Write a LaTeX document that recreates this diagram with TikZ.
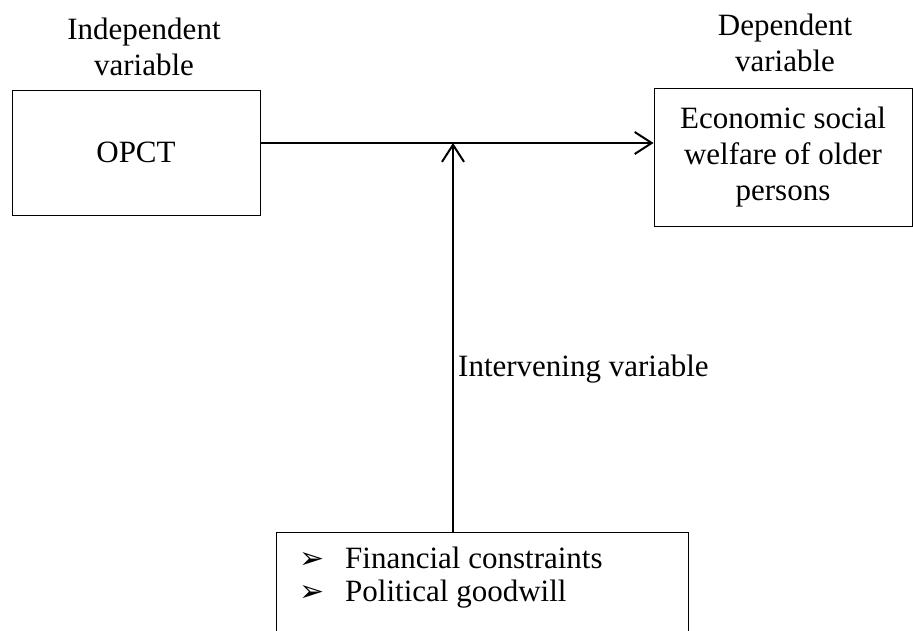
\documentclass[tikz,border=0pt]{standalone}
\usepackage{fontspec}
\setmainfont{Liberation Serif}
\newfontfamily\dejavu{DejaVu Sans}
\usetikzlibrary{arrows.meta}
\tikzset{
  txt/.style={font=\fontsize{31}{36}\selectfont, inner sep=0pt, align=center},
  box/.style={draw, line width=0.9pt, txt},
  conn/.style={line width=2.2pt, -{Straight Barb[length=17pt,width=22pt,line width=2pt]}},
}
\newcommand{\bul}{\makebox[20pt][l]{\raisebox{0pt}{\dejavu\fontsize{30}{30}\selectfont ➢}}}
\begin{document}
\begin{tikzpicture}[x=1pt,y=-1pt]
\useasboundingbox (0,0) rectangle (913,630);
\clip (0,0) rectangle (913,630);
\node[txt] (indlbl) at (144,47) {Independent\\variable};
\node[txt] (deplbl) at (785,43) {Dependent\\variable};
\node[box, minimum width=248pt, minimum height=125pt] (opct) at (136,152.5) {OPCT};
\node[box, minimum width=258pt, minimum height=138pt] (welf) at (783,157) {Economic social\\welfare of older\\persons};
\node[draw, line width=0.9pt, minimum width=412pt, minimum height=140pt, inner sep=0pt] (bot) at (482,602) {};
\node[txt, anchor=north west, align=left, font=\fontsize{31}{33}\selectfont] (list) at (299,547)
  {\bul\hspace{26pt}Financial constraints\\ \bul\hspace{26pt}Political goodwill};
\node[txt, anchor=west] (interv) at (458,369) {Intervening variable};
\coordinate (J) at (453,143);
\draw[conn] (opct.east |- J) -- (welf.west |- J);
\draw[conn] (bot.north -| J) -- (J);
\end{tikzpicture}
\end{document}
